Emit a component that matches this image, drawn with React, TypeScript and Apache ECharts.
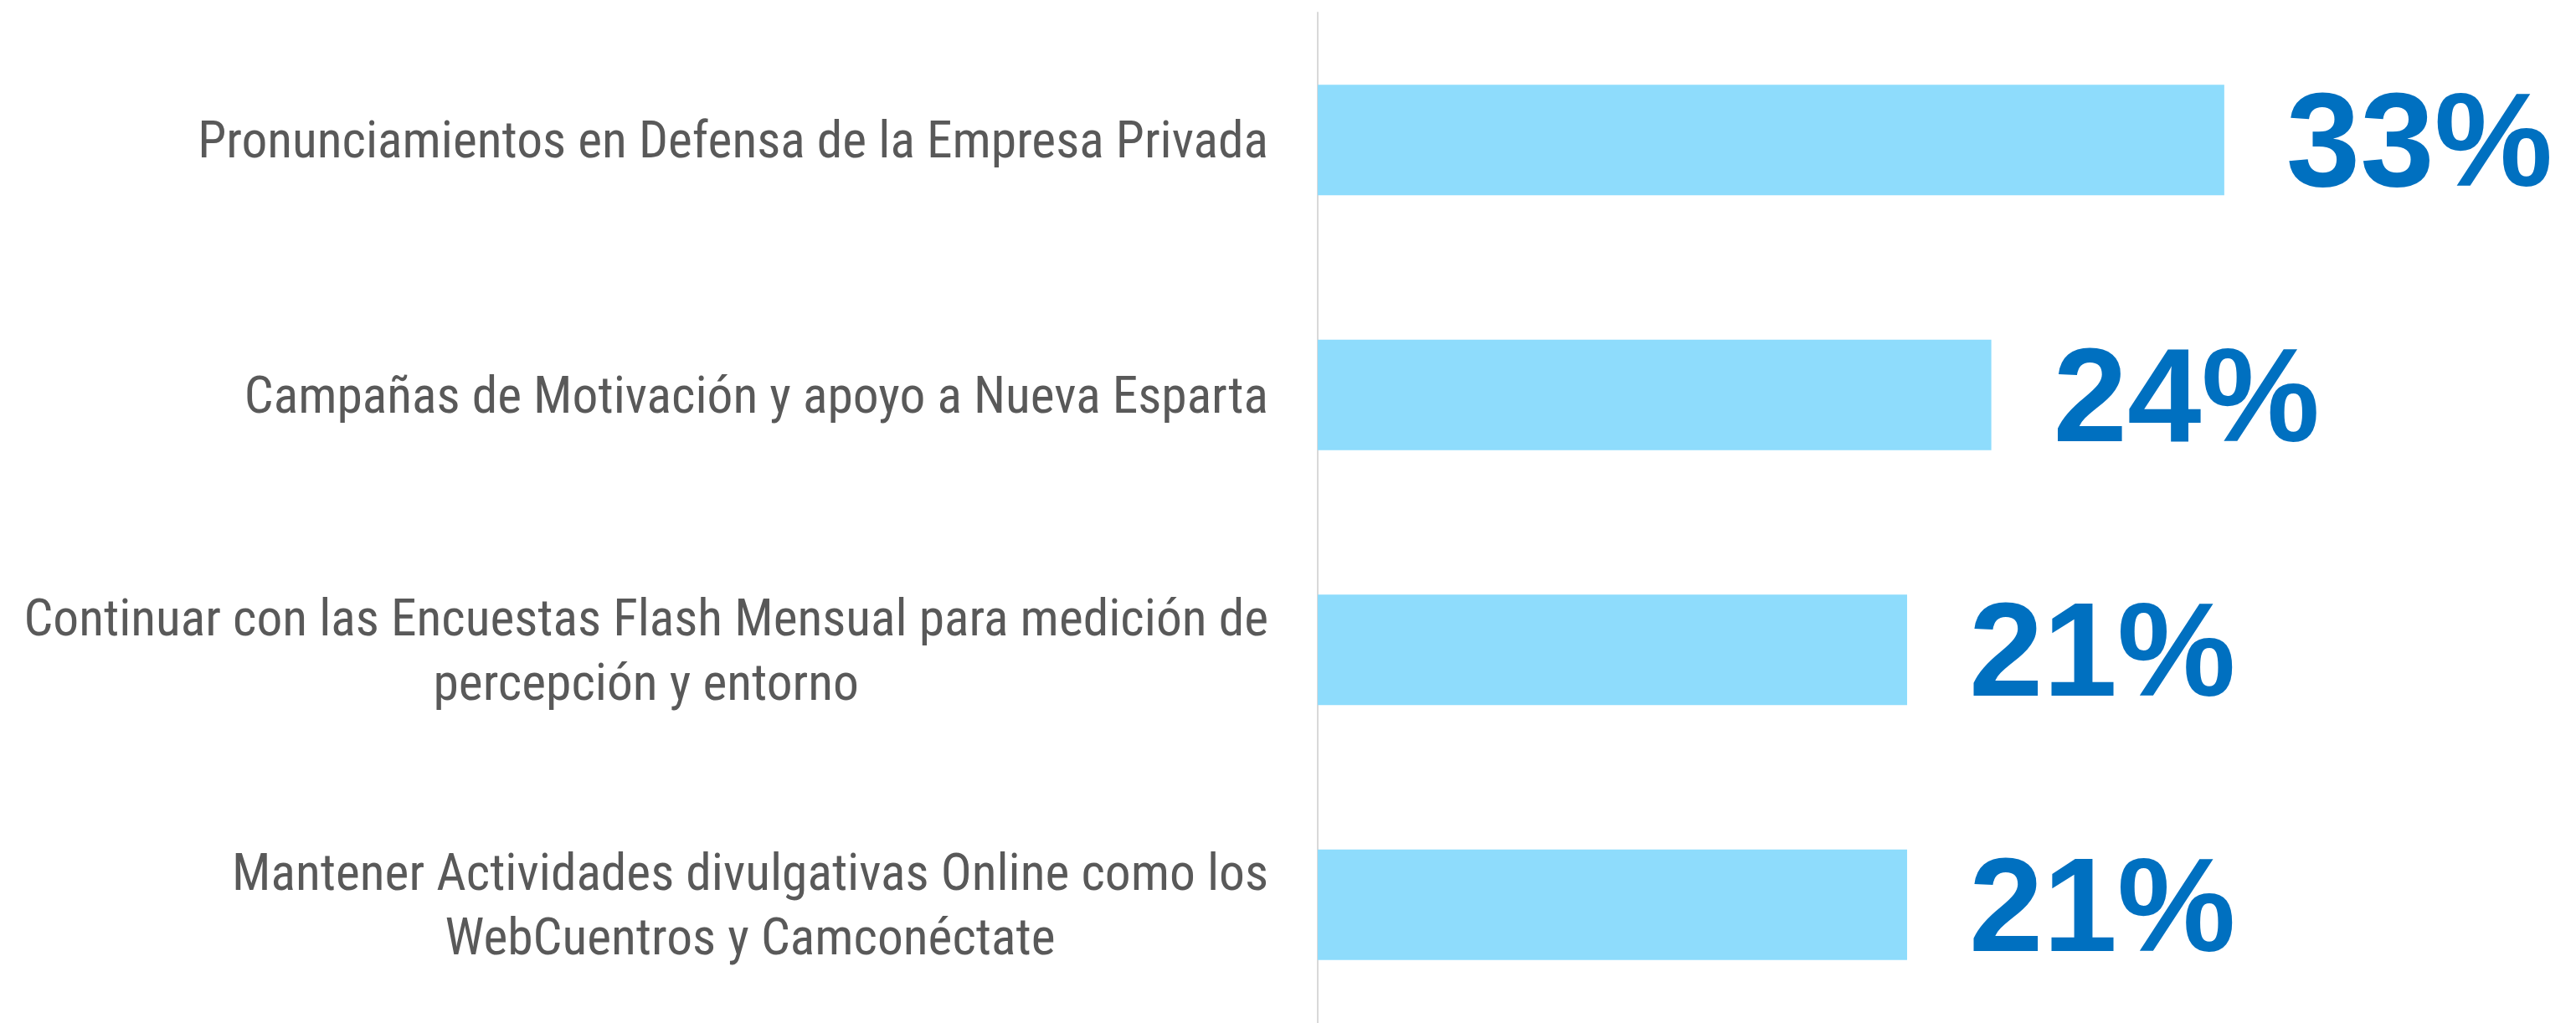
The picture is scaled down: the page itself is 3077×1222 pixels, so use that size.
import React, { useEffect, useRef } from "react";
import * as echarts from "echarts";

const categories: string[] = [
  "Pronunciamientos en Defensa de la Empresa Privada",
  "Campañas de Motivación y apoyo a Nueva Esparta",
  "Continuar con las Encuestas Flash Mensual para medición de\npercepción y entorno",
  "Mantener Actividades divulgativas Online como los\nWebCuentros y Camconéctate",
];
const values: number[] = [32.3, 24, 21, 21];
const valueLabels: string[] = ["33%", "24%", "21%", "21%"];

const LABEL_FONT = "'Roboto Condensed', 'Open Sans Condensed', sans-serif";

export default function App() {
  const ref = useRef<HTMLDivElement>(null);
  useEffect(() => {
    document.body.style.margin = "0";
    if (!ref.current) return;
    const chart = echarts.init(ref.current, undefined, { renderer: "svg" });
    chart.setOption({
      animation: false,
      backgroundColor: "#ffffff",
      grid: {
        left: 1574,
        top: 15,
        width: 1341,
        height: 1218,
        containLabel: false,
        outerBoundsMode: "none",
      },
      xAxis: {
        type: "value",
        min: 0,
        max: 40,
        show: false,
      },
      yAxis: {
        type: "category",
        inverse: true,
        data: categories,
        axisLine: { show: true, lineStyle: { color: "#D9D9D9", width: 2 } },
        axisTick: { show: false },
        splitLine: { show: false },
        axisLabel: {
          margin: 59,
          align: "right",
          color: "#595959",
          fontFamily: LABEL_FONT,
          fontSize: 61.5,
          lineHeight: 77,
          formatter: (v: string) =>
            v
              .split("\n")
              .map((l) => `{c|${l}}`)
              .join("\n"),
          rich: {
            c: {
              align: "center",
              color: "#595959",
              fontFamily: LABEL_FONT,
              fontSize: 61.5,
              lineHeight: 77,
            },
          },
        },
      },
      series: [
        {
          type: "bar",
          data: values,
          barWidth: 132,
          itemStyle: { color: "#8EDCFC" },
          label: {
            show: true,
            position: "right",
            distance: 74,
            color: "#0070C0",
            fontFamily: "'Liberation Sans', Arial, sans-serif",
            fontWeight: "bold",
            fontSize: 159,
            formatter: (p: any) => valueLabels[p.dataIndex],
          },
        },
      ],
    });
    return () => chart.dispose();
  }, []);
  return <div ref={ref} style={{ width: 3077, height: 1222 }} />;
}
